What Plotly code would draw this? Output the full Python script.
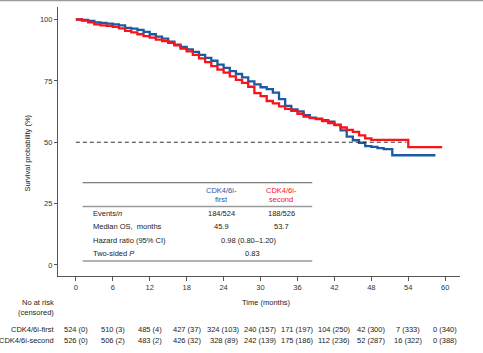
import plotly.graph_objects as go

# ---- data ----
first_t = [0, 1, 2, 3, 4, 5, 6, 7, 8, 9, 10, 11, 12, 13, 14, 15, 16, 17, 18, 19, 20,
           21, 22, 23, 24, 25, 26, 27, 28, 29, 30, 31, 32, 33, 34, 35, 36, 37, 38, 39,
           40, 41, 42, 43, 44, 45, 46, 47, 48, 49, 50, 51.4, 58.4]
first_s = [100, 99.8, 99.4, 98.8, 98.6, 98.3, 98.0, 97.6, 96.6, 96.3, 95.8, 95.0, 94.0,
           93.0, 92.2, 91.0, 89.8, 88.8, 87.8, 86.8, 85.6, 84.4, 83.2, 81.6, 80.3, 79.0,
           77.8, 76.4, 74.8, 73.6, 72.4, 71.6, 70.2, 67.6, 64.8, 63.4, 62.6, 61.0, 60.0,
           59.6, 59.0, 58.4, 57.2, 54.8, 52.3, 50.8, 49.8, 48.4, 48.1, 47.6, 47.2, 44.7, 44.7]

second_t = [0, 1, 2, 3, 4, 5, 6, 7, 8, 9, 10, 11, 12, 13, 14, 15, 16, 17, 18, 19, 20,
            21, 22, 23, 24, 25, 26, 27, 28, 29, 30, 31, 32, 33, 34, 35, 36, 37, 38, 39,
            40, 41, 42, 43, 44, 45, 46, 47, 48, 54, 59.5]
second_s = [100, 99.6, 98.8, 98.0, 97.6, 97.4, 97.0, 96.4, 95.4, 94.8, 94.0, 93.2, 92.6,
            91.8, 91.2, 90.5, 89.5, 88.2, 87.0, 85.6, 84.2, 82.6, 81.0, 79.6, 78.4, 76.8,
            75.4, 74.2, 72.6, 70.0, 68.8, 66.8, 65.8, 64.6, 63.6, 62.8, 61.6, 60.4, 59.8,
            59.4, 58.6, 57.8, 57.0, 56.0, 55.0, 54.2, 52.8, 51.6, 51.0, 48.0, 48.0]

median_second = 53.7
x_ticks = [0, 6, 12, 18, 24, 30, 36, 42, 48, 54, 60]
y_ticks = [0, 25, 50, 75, 100]
risk_first = ["524 (0)", "510 (3)", "485 (4)", "427 (37)", "324 (103)", "240 (157)",
              "171 (197)", "104 (250)", "42 (300)", "7 (333)", "0 (340)"]
risk_second = ["526 (0)", "506 (2)", "483 (2)", "426 (32)", "328 (89)", "242 (139)",
               "175 (186)", "112 (236)", "52 (287)", "16 (322)", "0 (388)"]
row_labels = ["Events/<i>n</i>", "Median OS,  months", "Hazard ratio (95% CI)", "Two-sided <i>P</i>"]
events = ["184/524", "188/526"]
medians = ["45.9", "53.7"]
hr_text = "0.98 (0.80–1.20)"
p_text = "0.83"

BLUE = "#1c5aa3"
RED = "#f5151b"
FONT = "Liberation Sans"
TXT = "#222222"
FS = 7.5

fig = go.Figure()
fig.add_trace(go.Scatter(x=first_t, y=first_s, mode="lines", line_shape="hv",
                         line=dict(color=BLUE, width=2.3), showlegend=False))
fig.add_trace(go.Scatter(x=second_t, y=second_s, mode="lines", line_shape="hv",
                         line=dict(color=RED, width=2.3), showlegend=False))
fig.add_trace(go.Scatter(x=[0, median_second], y=[50, 50], mode="lines",
                         line=dict(color="#333333", width=1, dash="4px,3px"), showlegend=False))

# table lines
fig.add_shape(type="line", x0=1.1, x1=38.4, y0=33.5, y1=33.5, line=dict(color="#333333", width=0.8))
fig.add_shape(type="line", x0=1.1, x1=38.4, y0=23.8, y1=23.8, line=dict(color="#9a9a9a", width=1.6))
fig.add_shape(type="line", x0=1.1, x1=38.4, y0=1.6, y1=1.6, line=dict(color="#9a9a9a", width=1.6))
# top border line of image
fig.add_shape(type="line", xref="paper", yref="paper", x0=-58/402, x1=425/402,
              y0=1.024, y1=1.024, line=dict(color="#9a9a9a", width=1.5))

ann = []
def txt(x, y, s, color=TXT, xanchor="center", xref="x", yref="y", size=FS, angle=0):
    ann.append(dict(x=x, y=y, text=s, xref=xref, yref=yref, showarrow=False,
                    xanchor=xanchor, yanchor="middle", textangle=angle,
                    font=dict(family=FONT, size=size, color=color)))

col1, col2 = 23.6, 33.4
txt(col1, 30.3, "CDK4/6i-", color="#2d54a8")
txt(col1, 26.5, "first", color="#2d54a8")
txt(col2, 30.3, "CDK4/6i-", color=RED)
txt(col2, 26.5, "second", color=RED)
row_y = [20.9, 15.6, 9.9, 4.8]
for lab, yy in zip(row_labels, row_y):
    txt(2.4, yy, lab, xanchor="left")
txt(col1, row_y[0], events[0]); txt(col2, row_y[0], events[1])
txt(col1, row_y[1], medians[0]); txt(col2, row_y[1], medians[1])
txt(28.1, row_y[2], hr_text)
txt(28.7, row_y[3], p_text)

# axis titles
txt(31.0, -0.1, "Time (months)", yref="paper")
txt(-0.0746, 0.455, "Survival probability (%)", xref="paper", yref="paper", angle=-90)

# risk table
txt(-0.005, -0.0967, "No at risk", xref="paper", yref="paper", xanchor="right")
txt(-0.005, -0.136, "(censored)", xref="paper", yref="paper", xanchor="right")
txt(-0.005, -0.2007, "CDK4/6i-first", xref="paper", yref="paper", xanchor="right")
txt(-0.005, -0.238, "CDK4/6i-second", xref="paper", yref="paper", xanchor="right")
for xt, a, b in zip(x_ticks, risk_first, risk_second):
    txt(xt, -0.2007, a, yref="paper")
    txt(xt, -0.238, b, yref="paper")

fig.update_layout(
    width=483, height=353, margin=dict(l=58, r=23, t=7, b=77),
    paper_bgcolor="white", plot_bgcolor="white",
    font=dict(family=FONT, size=FS, color="#333333"),
    annotations=ann,
    xaxis=dict(range=[-2.9, 62.4], tickvals=x_ticks, showgrid=False, zeroline=False,
               showline=True, linecolor="#555555", linewidth=1.2, ticks="outside",
               ticklen=4, tickcolor="#555555", tickfont=dict(size=FS, family=FONT, color="#333333")),
    yaxis=dict(range=[-4.5, 105.1], tickvals=y_ticks, showgrid=False, zeroline=False,
               showline=True, linecolor="#555555", linewidth=1.2, ticks="outside",
               ticklen=3, tickcolor="#555555", tickfont=dict(size=FS, family=FONT, color="#333333")),
)
fig.write_html("out.html")
